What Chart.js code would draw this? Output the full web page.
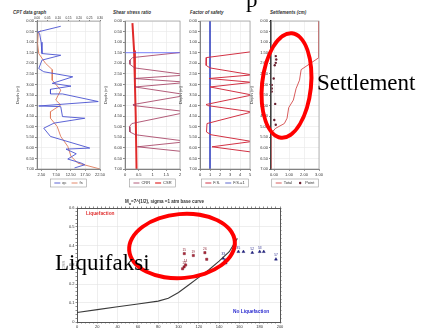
<!DOCTYPE html>
<html lang="en">
<head>
<meta charset="UTF-8" />
<title>CPT liquefaction analysis</title>
<script src="https://cdn.jsdelivr.net/npm/chart.js"></script>
<style>
  body { margin: 0; background: #fff; width: 422px; height: 329px; position: relative; overflow: hidden; font-family: "Liberation Sans", Arial, sans-serif; }
  canvas { position: absolute; }
  .ttl { position: absolute; font-size: 4.5px; font-style: italic; font-weight: bold; color: #333; white-space: nowrap; }
  .tag { position: absolute; font-size: 4.8px; font-weight: bold; white-space: nowrap; }
  .ring { position: absolute; border: 4px solid #f00; border-radius: 50%; box-sizing: border-box; }
  .note { position: absolute; font-family: "Liberation Serif", "Times New Roman", serif; font-size: 23px; line-height: 23px; color: #000; white-space: nowrap; }
</style>
</head>
<body>

  <!-- top row: four depth panels -->
  <div class="ttl" style="left:13px; top:10px;">CPT data graph</div>
  <div class="ttl" style="left:113px; top:10px;">Shear stress ratio</div>
  <div class="ttl" style="left:190px; top:10px;">Factor of safety</div>
  <div class="ttl" style="left:270px; top:10px;">Settlements (cm)</div>

  <canvas id="cpt" width="92" height="195" style="left:15px; top:0;"></canvas>
  <canvas id="ssr" width="84" height="195" style="left:103px; top:0;"></canvas>
  <canvas id="fos" width="79" height="195" style="left:178px; top:0;"></canvas>
  <canvas id="set" width="77" height="195" style="left:249px; top:0;"></canvas>

  <!-- bottom: base curve chart -->
  <div class="ttl" style="left:125px; top:199px; font-style:normal;">M<sub style="font-size:3px">w</sub>=7^(1/2), sigma =1 atm base curve</div>
  <canvas id="base" width="225" height="133" style="left:61px; top:196px;"></canvas>
  <div class="tag" style="left:86px; top:211px; color:#e03030;">Liquefaction</div>
  <div class="tag" style="left:233px; top:309px; color:#2a2ad0;">No Liquefaction</div>

  <!-- annotations -->
  <div class="note" style="left:246px; top:-12px;">p</div>
  <div class="ring" style="left:260px; top:31px; width:53px; height:109px; transform:rotate(6deg);"></div>
  <div class="note" style="left:317px; top:71px;">Settlement</div>
  <div class="ring" style="left:127px; top:212px; width:110px; height:68px; transform:rotate(-5deg);"></div>
  <div class="note" style="left:55px; top:251px;">Liquifaksi</div>

  <script>
    // depth axis shared by the four panels
    const depthTicks = [0, 0.5, 1, 1.5, 2, 2.5, 3, 3.5, 4, 4.5, 5, 5.5, 6, 6.5, 7];

    // CPT data graph
    const qcDepth = [0.25, 0.52, 0.6, 1.0, 1.54, 1.62, 1.85, 2.25, 2.4, 2.64, 2.95, 3.08, 3.23, 3.45, 3.45, 3.81, 4.02, 4.05, 4.52, 4.6, 4.83, 5.07, 5.46, 6.01, 6.06, 6.28, 6.53, 6.72, 6.8, 6.95];
    const qcValues = [9.1, 1.2, 1.9, 2.4, 2.7, 9.1, 2.7, 1.6, 3.3, 13.2, 6.2, 12.6, 5.6, 5.6, 9.7, 21.9, 1.6, 9.1, 9.7, 17.3, 6.8, 3.3, 5.6, 19.0, 10.9, 14.4, 11.5, 16.1, 17.3, 13.8];
    const fsDepth = [0.45, 0.6, 1.07, 1.54, 2.0, 2.3, 2.8, 3.27, 3.74, 3.97, 4.29, 4.6, 4.99, 5.46, 5.93, 6.4, 6.72, 7.0];
    const fsValues = [2.2, 1.4, 1.2, 1.6, 3.9, 6.2, 6.2, 9.1, 7.4, 9.1, 5.6, 5.6, 7.9, 9.1, 11.5, 12.6, 14.9, 22.5];
    const cptTicks = [2.5, 7.5, 12.5, 17.5, 22.5];
    const cptTopTicks = [0, 0.05, 0.1, 0.15, 0.2, 0.25, 0.3];

    // shear stress ratio
    const csrDepth = [0.1, 1.4, 2.9, 4.5, 7.0];
    const csrValues = [0.27, 0.33, 0.36, 0.39, 0.42];
    const crrDepth = [1.45, 1.73, 1.85, 2.05, 2.22, 2.55, 2.72, 2.9, 3.12, 3.5, 3.95, 4.0, 4.3, 4.85, 5.0, 5.25, 5.38, 5.7, 5.95, 6.2];
    const crrValues = [2.3, 0.28, 0.18, 0.18, 0.35, 2.3, 0.33, 2.3, 0.36, 2.3, 0.3, 0.32, 2.3, 0.25, 0.16, 0.18, 0.38, 2.3, 0.45, 2.3];
    const waterDepth = 1.5;
    const ssrTicks = [0, 0.5, 1, 1.5, 2];

    // factor of safety
    const fosDepth = [1.45, 1.73, 2.1, 2.22, 2.55, 2.72, 2.9, 3.12, 3.5, 3.95, 4.0, 4.3, 4.85, 5.25, 5.38, 5.7, 5.95, 6.2];
    const fosValues = [5.2, 0.65, 0.62, 1.0, 5.2, 0.9, 5.2, 1.0, 5.2, 0.6, 0.75, 5.2, 0.7, 0.65, 1.1, 5.2, 1.2, 5.2];
    const fosLimit = 1;
    const fosTicks = [0, 1, 2, 3, 4, 5];

    // settlements
    const totalDepth = [0, 1.73, 2.3, 2.8, 3.2, 3.74, 4.1, 4.6, 4.85, 5.07, 5.3, 7.0];
    const totalValues = [3.0, 3.0, 1.81, 1.7, 1.47, 1.29, 0.98, 0.87, 0.69, 0.12, -0.2, -0.2];
    const pointDepth = [1.66, 1.82, 1.98, 2.09, 2.72, 3.03, 3.19, 3.34, 3.92, 4.68, 4.91];
    const pointValues = [0.12, 0.15, 0.12, 0.05, -0.02, -0.15, -0.15, -0.15, 0.08, 0.02, 0.12];
    const setTicks = [0, 1, 2, 3];

    // base curve chart
    const curveX = [0, 20, 40, 60, 80, 90, 100, 110, 120, 130, 140, 150, 158];
    const curveY = [0.05, 0.065, 0.08, 0.095, 0.11, 0.125, 0.155, 0.195, 0.235, 0.275, 0.32, 0.37, 0.44];
    const liqX = [105.7, 114.6, 126, 127.8, 104, 105.5, 107];
    const liqY = [0.36, 0.35, 0.365, 0.33, 0.28, 0.29, 0.30];
    const liqLabels = ['15', '19', '26', '', '', '13', '14'];
    const nonX = [144, 146, 146.5, 159, 164, 172.7, 180, 184, 196];
    const nonY = [0.335, 0.325, 0.31, 0.37, 0.37, 0.365, 0.37, 0.37, 0.33];
    const nonLabels = ['33', '', '', '35', '', '52', '53', '', '57'];

    Chart.defaults.font.family = '"Liberation Sans", Arial, sans-serif';
    Chart.defaults.font.size = 4;
    Chart.defaults.color = '#333';

    const pts = (xs, ys) => xs.map((x, i) => ({ x: x, y: ys[i] }));

    // thin frame round the plot area
    const frame = {
      id: 'frame',
      afterDraw(chart) {
        const a = chart.chartArea, ctx = chart.ctx;
        ctx.save();
        ctx.strokeStyle = '#999';
        ctx.lineWidth = 0.7;
        ctx.strokeRect(a.left, a.top, a.right - a.left, a.bottom - a.top);
        ctx.restore();
      }
    };

    // small boxed legend under each depth panel
    const boxLegend = {
      id: 'boxLegend',
      afterDraw(chart) {
        const items = chart.data.datasets.filter(d => d.label);
        const ctx = chart.ctx, a = chart.chartArea;
        ctx.save();
        ctx.font = '4px "Liberation Sans", Arial, sans-serif';
        const widths = items.map(d => 8 + ctx.measureText(d.label).width);
        const total = widths.reduce((s, w) => s + w, 0) + 5 * (items.length - 1) + 8;
        const cx = (a.left + a.right) / 2, cy = a.bottom + 14;
        ctx.strokeStyle = '#999';
        ctx.lineWidth = 0.6;
        ctx.strokeRect(cx - total / 2, cy - 4, total, 8);
        let x = cx - total / 2 + 4;
        items.forEach((d, i) => {
          if (d.showLine) {
            ctx.strokeStyle = d.borderColor;
            ctx.lineWidth = Math.min(d.borderWidth, 1.2);
            ctx.beginPath();
            ctx.moveTo(x, cy);
            ctx.lineTo(x + 6, cy);
            ctx.stroke();
          } else {
            ctx.fillStyle = d.backgroundColor;
            ctx.beginPath();
            ctx.arc(x + 3, cy, 1.2, 0, Math.PI * 2);
            ctx.fill();
          }
          ctx.fillStyle = '#333';
          ctx.textBaseline = 'middle';
          ctx.fillText(d.label, x + 8, cy);
          x += widths[i] + 5;
        });
        ctx.restore();
      }
    };

    // number tags above points
    const pointTags = {
      id: 'pointTags',
      afterDatasetsDraw(chart) {
        const ctx = chart.ctx;
        chart.data.datasets.forEach((ds, i) => {
          if (!ds.tags) return;
          const meta = chart.getDatasetMeta(i);
          ctx.save();
          ctx.font = '3.2px "Liberation Sans", Arial, sans-serif';
          ctx.fillStyle = ds.tagColor;
          ctx.textAlign = 'center';
          meta.data.forEach((el, j) => ctx.fillText(ds.tags[j], el.x, el.y - 3));
          ctx.restore();
        });
      }
    };

    function depthPanel(id, datasets, xAxis, topAxis) {
      const scales = {
        x: {
          type: 'linear',
          min: xAxis.min,
          max: xAxis.max,
          afterBuildTicks: s => { s.ticks = xAxis.ticks.map(v => ({ value: v })); },
          ticks: { callback: v => xAxis.fmt(v), padding: 1, maxRotation: 0, autoSkip: false },
          grid: { color: '#e8e8e8', tickColor: '#555', tickLength: 2, lineWidth: 0.6 },
          border: { color: '#777' },
          afterFit: s => { s.height = 10; }
        },
        y: {
          type: 'linear',
          reverse: true,
          min: 0,
          max: 7,
          afterBuildTicks: s => { s.ticks = depthTicks.map(v => ({ value: v })); },
          ticks: { callback: v => v.toFixed(2), padding: 1, autoSkip: false },
          title: { display: true, text: 'Depth (m)', padding: 0 },
          grid: { color: '#e8e8e8', tickColor: '#333', tickLength: 2, lineWidth: 0.6 },
          border: { color: id === 'set' ? '#111' : '#777', width: id === 'set' ? 1.5 : 1 },
          afterFit: s => { s.width = 22; }
        }
      };
      if (topAxis) {
        scales.xTop = {
          type: 'linear',
          position: 'top',
          min: topAxis[0],
          max: topAxis[topAxis.length - 1],
          afterBuildTicks: s => { s.ticks = topAxis.map(v => ({ value: v })); },
          ticks: { callback: v => v.toFixed(2), font: { size: 3.2 }, padding: 0, maxRotation: 0, autoSkip: false },
          grid: { drawOnChartArea: false, tickLength: 1, tickColor: '#777' },
          afterFit: s => { s.height = 5; }
        };
      }
      return new Chart(document.getElementById(id), {
        type: 'scatter',
        data: { datasets: datasets },
        options: {
          responsive: false,
          animation: false,
          layout: { padding: { top: topAxis ? 16 : 21, bottom: 16, left: 0, right: 7 } },
          plugins: { legend: { display: false }, tooltip: { enabled: false } },
          scales: scales
        },
        plugins: [frame, boxLegend]
      });
    }

    const lineSet = (label, xs, ys, color, width) => ({
      label: label, data: pts(xs, ys), showLine: true, pointRadius: 0,
      borderColor: color, backgroundColor: color, borderWidth: width
    });

    depthPanel('cpt', [
      lineSet('qc', qcValues, qcDepth, '#4a52d0', 0.9),
      lineSet('fs', fsValues, fsDepth, '#e07a5a', 0.9)
    ], { min: 1, max: 22.5, ticks: cptTicks, fmt: v => v.toFixed(2) }, cptTopTicks);

    depthPanel('ssr', [
      lineSet('', [0, 2], [waterDepth, waterDepth], '#5a66ff', 0.8),
      lineSet('CRR', crrValues, crrDepth, '#a03458', 0.8),
      lineSet('CSR', csrValues, csrDepth, '#e02a2a', 2)
    ], { min: 0, max: 2, ticks: ssrTicks, fmt: v => String(v) });

    depthPanel('fos', [
      lineSet('F.S.', fosValues, fosDepth, '#d23244', 1),
      lineSet('F.S.=1', [fosLimit, fosLimit], [0, 7], '#3442c2', 0.8)
    ], { min: 0, max: 5, ticks: fosTicks, fmt: v => String(v) });

    depthPanel('set', [
      lineSet('Total', totalValues, totalDepth, '#d44a4a', 0.9),
      { label: 'Point', data: pts(pointValues, pointDepth), showLine: false, pointRadius: 1.2,
        pointBorderWidth: 0, backgroundColor: '#6a2030', borderColor: '#6a2030' }
    ], { min: -0.2, max: 3, ticks: setTicks, fmt: v => v.toFixed(2) });

    // base curve chart
    const xMinor = [];
    for (let v = 0; v <= 200; v += 4) xMinor.push(v);
    const yMinor = [];
    for (let i = 0; i <= 30; i++) yMinor.push(Math.round(i * 2) / 100);
    const xMajor = v => v % 20 === 0;
    const yMajor = v => Math.round(v * 100) % 10 === 0;

    const minorAxis = (pos, lo, hi, ticks, major, fmt, size) => ({
      type: 'linear',
      position: pos,
      min: lo,
      max: hi,
      afterBuildTicks: s => { s.ticks = ticks.map(v => ({ value: v })); },
      ticks: { display: !!fmt, callback: v => (fmt && major(v) ? fmt(v) : ''), padding: 1, maxRotation: 0, autoSkip: false },
      grid: {
        drawOnChartArea: !!fmt,
        color: c => (c.tick && major(c.tick.value) ? '#e2e2e2' : 'rgba(0,0,0,0)'),
        tickColor: '#444',
        tickLength: 1.5,
        lineWidth: 0.6
      },
      border: { color: '#555' },
      afterFit: s => { if (pos === 'top' || pos === 'bottom') s.height = size; else s.width = size; }
    });

    const yAxis = minorAxis('left', 0, 0.6, yMinor, yMajor, v => (v === 0 ? '0' : v.toFixed(1)), 16);
    yAxis.title = { display: true, text: 'CRR', color: '#999', padding: 0 };

    new Chart(document.getElementById('base'), {
      type: 'scatter',
      data: {
        datasets: [
          { data: pts(curveX, curveY), showLine: true, pointRadius: 0, borderColor: '#3a3a3a', borderWidth: 1.1 },
          { data: pts(liqX, liqY), pointStyle: 'rect', pointRadius: 1.6, pointBorderWidth: 0.4,
            backgroundColor: '#b02838', borderColor: '#701020', tags: liqLabels, tagColor: '#8a2030' },
          { data: pts(nonX, nonY), pointStyle: 'triangle', pointRadius: 1.7, pointBorderWidth: 0.4,
            backgroundColor: '#20208a', borderColor: '#101060', tags: nonLabels, tagColor: '#303090' }
        ]
      },
      options: {
        responsive: false,
        animation: false,
        layout: { padding: { top: 10, bottom: 0, left: 0, right: 4 } },
        plugins: { legend: { display: false }, tooltip: { enabled: false } },
        scales: {
          x: minorAxis('bottom', 0, 200, xMinor, xMajor, v => String(v), 7),
          y: yAxis,
          x2: minorAxis('top', 0, 200, xMinor, xMajor, null, 2),
          y2: minorAxis('right', 0, 0.6, yMinor, yMajor, null, 2)
        }
      },
      plugins: [pointTags]
    });
  </script>
</body>
</html>
